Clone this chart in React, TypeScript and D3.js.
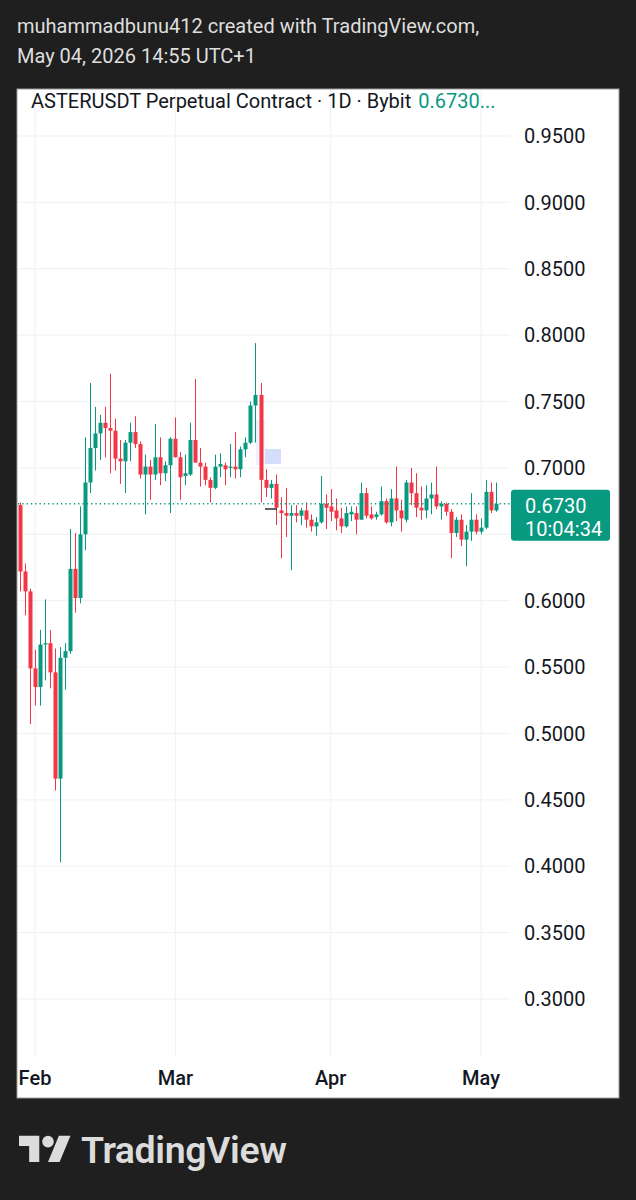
import React from "react";
import * as d3 from "d3";

// daily candles, first one is Jan 29 2026
const firstDay = new Date(Date.UTC(2026, 0, 29));
const opens = [
  0.672, 0.622, 0.607, 0.549, 0.535, 0.567, 0.568, 0.546, 0.466, 0.557,
  0.562, 0.624, 0.602, 0.65, 0.689, 0.715, 0.726, 0.734, 0.73, 0.728,
  0.707, 0.705, 0.719, 0.727, 0.718, 0.695, 0.701, 0.695, 0.708, 0.696,
  0.702, 0.722, 0.708, 0.694, 0.695, 0.721, 0.704, 0.701, 0.691, 0.685,
  0.701, 0.702, 0.7, 0.701, 0.699, 0.714, 0.719, 0.747, 0.755, 0.691,
  0.685, 0.688, 0.668, 0.666, 0.664, 0.666, 0.664, 0.668, 0.661, 0.656,
  0.659, 0.673, 0.671, 0.668, 0.662, 0.656, 0.665, 0.666, 0.661, 0.681,
  0.665, 0.663, 0.665, 0.675, 0.659, 0.677, 0.668, 0.661, 0.689, 0.681,
  0.67, 0.668, 0.677, 0.68, 0.671, 0.673, 0.667, 0.651, 0.661, 0.646,
  0.652, 0.661, 0.652, 0.655, 0.682, 0.668,
];
const highs = [
  0.674, 0.628, 0.609, 0.563, 0.578, 0.601, 0.578, 0.564, 0.565, 0.568,
  0.654, 0.651, 0.671, 0.723, 0.764, 0.746, 0.74, 0.746, 0.771, 0.737,
  0.721, 0.721, 0.734, 0.739, 0.72, 0.71, 0.706, 0.733, 0.723, 0.705,
  0.723, 0.738, 0.712, 0.71, 0.734, 0.767, 0.715, 0.704, 0.693, 0.71,
  0.711, 0.704, 0.718, 0.727, 0.716, 0.723, 0.75, 0.794, 0.764, 0.699,
  0.691, 0.695, 0.678, 0.685, 0.672, 0.672, 0.67, 0.674, 0.665, 0.663,
  0.694, 0.68, 0.684, 0.677, 0.67, 0.671, 0.671, 0.671, 0.689, 0.685,
  0.671, 0.667, 0.686, 0.677, 0.684, 0.701, 0.676, 0.691, 0.7, 0.696,
  0.686, 0.687, 0.689, 0.701, 0.675, 0.674, 0.669, 0.663, 0.665, 0.657,
  0.681, 0.665, 0.662, 0.691, 0.689, 0.689,
];
const lows = [
  0.607, 0.589, 0.507, 0.521, 0.521, 0.54, 0.534, 0.457, 0.403, 0.533,
  0.56, 0.591, 0.598, 0.638, 0.681, 0.698, 0.706, 0.708, 0.696, 0.698,
  0.688, 0.681, 0.705, 0.715, 0.692, 0.665, 0.676, 0.691, 0.687, 0.69,
  0.666, 0.708, 0.676, 0.687, 0.694, 0.704, 0.686, 0.687, 0.674, 0.684,
  0.693, 0.687, 0.693, 0.692, 0.693, 0.708, 0.718, 0.719, 0.674, 0.678,
  0.677, 0.657, 0.632, 0.648, 0.623, 0.659, 0.657, 0.655, 0.652, 0.649,
  0.658, 0.654, 0.66, 0.653, 0.651, 0.655, 0.66, 0.65, 0.661, 0.662,
  0.661, 0.661, 0.664, 0.658, 0.656, 0.66, 0.652, 0.659, 0.672, 0.663,
  0.661, 0.662, 0.665, 0.669, 0.661, 0.664, 0.632, 0.648, 0.641, 0.626,
  0.645, 0.65, 0.65, 0.654, 0.666, 0.667,
];
const closes = [
  0.622, 0.607, 0.549, 0.535, 0.567, 0.568, 0.546, 0.466, 0.557, 0.562,
  0.624, 0.602, 0.65, 0.689, 0.715, 0.726, 0.734, 0.73, 0.728, 0.707,
  0.705, 0.719, 0.727, 0.718, 0.695, 0.701, 0.695, 0.708, 0.696, 0.702,
  0.722, 0.708, 0.693, 0.696, 0.721, 0.704, 0.701, 0.691, 0.685, 0.701,
  0.703, 0.699, 0.701, 0.699, 0.714, 0.719, 0.747, 0.755, 0.691, 0.685,
  0.688, 0.67, 0.666, 0.664, 0.666, 0.664, 0.668, 0.661, 0.656, 0.659,
  0.673, 0.67, 0.667, 0.662, 0.656, 0.666, 0.667, 0.661, 0.681, 0.664,
  0.662, 0.665, 0.675, 0.659, 0.677, 0.668, 0.662, 0.689, 0.681, 0.67,
  0.668, 0.677, 0.68, 0.671, 0.673, 0.667, 0.651, 0.661, 0.646, 0.652,
  0.661, 0.652, 0.655, 0.682, 0.668, 0.673,
];

const priceTicks = [0.3, 0.35, 0.4, 0.45, 0.5, 0.55, 0.6, 0.65, 0.7, 0.75, 0.8, 0.85, 0.9, 0.95];
const monthTicks = [
  new Date(Date.UTC(2026, 1, 1)),
  new Date(Date.UTC(2026, 2, 1)),
  new Date(Date.UTC(2026, 3, 1)),
  new Date(Date.UTC(2026, 4, 1)),
];
const monthLabels = ["Feb", "Mar", "Apr", "May"];
const lastPrice = 0.673;
const countdown = "10:04:34";

const UP = "#089981";
const DOWN = "#f23645";
const FONT = "Roboto, 'Noto Sans', sans-serif";

export default function App() {
  const W = 636;
  const H = 1200;
  const panel = { left: 17, top: 89, right: 619, bottom: 1098 };
  const plotRight = 510;

  const x = d3.scaleUtc().domain([monthTicks[0], monthTicks[3]]).range([35, 481]);
  const y = d3.scaleLinear().domain([0.3, 0.95]).range([999, 136]);

  const candles = opens.map((o, i) => ({
    date: d3.utcDay.offset(firstDay, i),
    o,
    h: highs[i],
    l: lows[i],
    c: closes[i],
  }));

  const bodyW = 4;
  const lastY = y(lastPrice);
  const boxTop = lastY - 14;
  const boxBottom = lastY + 37;

  return (
    <svg
      width={W}
      height={H}
      style={{ position: "absolute", left: 0, top: 0, display: "block" }}
      fontFamily={FONT}
    >
      <rect x={0} y={0} width={W} height={H} fill="#1f1f1f" />

      <text x={17} y={33} fill="#dedede" fontSize={20}>
        muhammadbunu412 created with TradingView.com,
      </text>
      <text x={17} y={63} fill="#dedede" fontSize={20}>
        May 04, 2026 14:55 UTC+1
      </text>

      <rect
        x={panel.left}
        y={panel.top}
        width={panel.right - panel.left}
        height={panel.bottom - panel.top}
        fill="#ffffff"
        stroke="#9a9a9a"
        strokeWidth={1}
      />

      <defs>
        <clipPath id="plotClip">
          <rect x={panel.left + 1} y={panel.top} width={plotRight - panel.left} height={980} />
        </clipPath>
      </defs>

      {/* grid */}
      {priceTicks.map((p) => (
        <line
          key={"h" + p}
          x1={panel.left + 1}
          x2={plotRight}
          y1={y(p)}
          y2={y(p)}
          stroke="#f0f1f4"
          strokeWidth={1}
        />
      ))}
      {monthTicks.map((d, i) => (
        <line
          key={"v" + i}
          x1={x(d)}
          x2={x(d)}
          y1={panel.top + 1}
          y2={1056}
          stroke="#f0f1f4"
          strokeWidth={1}
        />
      ))}

      {/* selection highlight */}
      <rect x={256} y={420} width={9} height={45} fill="#eef2fd" />
      <rect x={265} y={449} width={16} height={15} fill="#d4defb" />

      <g clipPath="url(#plotClip)">
        {candles.map((d, i) => {
          const cx = Math.round(x(d.date)) + 0.5;
          const col = d.c >= d.o ? UP : DOWN;
          const top = y(Math.max(d.o, d.c));
          const bot = y(Math.min(d.o, d.c));
          return (
            <g key={i}>
              <line x1={cx} x2={cx} y1={y(d.h)} y2={y(d.l)} stroke={col} strokeWidth={1} />
              <rect
                x={cx - bodyW / 2}
                y={top}
                width={bodyW}
                height={Math.max(1, bot - top)}
                fill={col}
              />
            </g>
          );
        })}
        <line x1={265} x2={277} y1={509} y2={509} stroke="#2a2e39" strokeWidth={1.5} />
        <line
          x1={panel.left + 1}
          x2={plotRight}
          y1={lastY}
          y2={lastY}
          stroke={UP}
          strokeWidth={1.3}
          strokeDasharray="1.3 3"
        />
      </g>

      {/* legend */}
      <text x={31} y={108} fontSize={20} fill="#131722">
        ASTERUSDT Perpetual Contract · 1D · Bybit
        <tspan dx={7} fill={UP}>0.6730...</tspan>
      </text>

      {/* price scale */}
      {priceTicks
        .filter((p) => Math.abs(y(p) - (boxTop + boxBottom) / 2) > 30)
        .map((p) => (
          <text
            key={"t" + p}
            x={524}
            y={y(p)}
            dy="0.36em"
            fontSize={20}
            fill="#131722"
          >
            {p.toFixed(4)}
          </text>
        ))}

      <rect x={511} y={boxTop} width={99} height={boxBottom - boxTop} rx={3} fill={UP} />
      <text x={525} y={lastY + 9} fontSize={20} fill="#ffffff">
        {lastPrice.toFixed(4)}
      </text>
      <text x={525} y={lastY + 32} fontSize={20} fill="#ffffff">
        {countdown}
      </text>

      {/* time scale */}
      {monthTicks.map((d, i) => (
        <text
          key={"m" + i}
          x={x(d)}
          y={1085}
          textAnchor="middle"
          fontSize={20}
          fontWeight={500}
          fill="#131722"
        >
          {monthLabels[i]}
        </text>
      ))}

      {/* TradingView logo */}
      <g transform="translate(19,1130) scale(1.45)" fill="#dcdcdc">
        <path d="M14 22H7V11H0V4h14v18z" />
        <path d="M28 22h-8l7.5-18h8L28 22z" />
        <circle cx={20} cy={8} r={4} />
      </g>
      <text x={81} y={1163} fontSize={37.5} fontWeight={600} fill="#dcdcdc" letterSpacing={-0.4}>
        TradingView
      </text>
    </svg>
  );
}
